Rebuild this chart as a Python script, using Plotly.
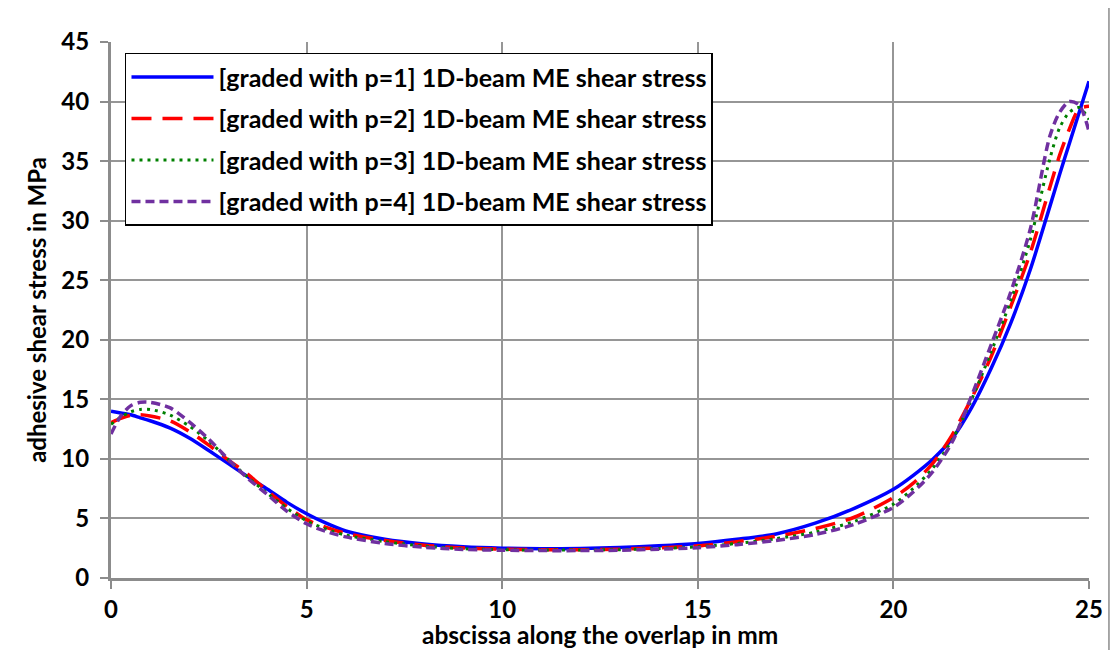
import plotly.graph_objects as go

x = [0, 0.25, 0.5, 0.75, 1, 1.5, 2, 2.5, 3, 3.5, 4, 4.5, 5, 5.5, 6, 7, 8, 9, 10, 11, 12, 13, 14, 15,
     16, 17, 18, 19, 20, 20.5, 21, 21.5, 22, 22.5, 23, 23.5, 24, 24.25, 24.5, 24.75, 25]

p1 = [14.0, 13.85, 13.7, 13.45, 13.2, 12.6, 11.75, 10.7, 9.6, 8.5, 7.45, 6.35, 5.4, 4.6, 3.95, 3.25, 2.85, 2.62, 2.5, 2.45, 2.47, 2.56, 2.7, 2.9,
      3.25, 3.7, 4.6, 5.85, 7.45, 8.6, 9.95, 11.7, 14.3, 17.6, 21.4, 25.9, 31.2, 33.9, 36.5, 39.1, 41.7]
p2 = [13.05, 13.4, 13.65, 13.7, 13.6, 13.2, 12.3, 11.15, 9.9, 8.7, 7.3, 6.0, 4.9, 4.25, 3.75, 3.15, 2.75, 2.52, 2.42, 2.37, 2.37, 2.42, 2.53, 2.7,
      3.05, 3.5, 4.15, 5.1, 6.75, 7.95, 9.6, 12.0, 15.1, 18.6, 22.8, 27.3, 32.8, 35.5, 37.7, 39.4, 39.6]
p3 = [12.9, 13.5, 13.95, 14.15, 14.15, 13.7, 12.75, 11.5, 9.95, 8.45, 7.1, 5.85, 4.8, 4.1, 3.6, 3.05, 2.68, 2.46, 2.38, 2.35, 2.35, 2.38, 2.47, 2.62,
      2.9, 3.3, 3.85, 4.75, 6.2, 7.5, 9.2, 11.6, 15.0, 19.0, 23.3, 28.4, 35.2, 37.8, 39.1, 39.5, 38.5]
p4 = [12.1, 13.6, 14.45, 14.75, 14.75, 14.3, 13.1, 11.65, 9.95, 8.35, 7.0, 5.6, 4.55, 3.9, 3.45, 2.9, 2.58, 2.4, 2.33, 2.3, 2.3, 2.33, 2.42, 2.55,
      2.8, 3.15, 3.65, 4.5, 5.93, 7.2, 8.9, 11.4, 15.3, 19.6, 24.0, 29.3, 37.1, 39.1, 40.0, 39.7, 37.5]

names = ["[graded with p=1] 1D-beam ME shear stress",
         "[graded with p=2] 1D-beam ME shear stress",
         "[graded with p=3] 1D-beam ME shear stress",
         "[graded with p=4] 1D-beam ME shear stress"]
x_ticks = [0, 5, 10, 15, 20, 25]
y_ticks = [0, 5, 10, 15, 20, 25, 30, 35, 40, 45]
x_title = "abscissa along the overlap in mm"
y_title = "adhesive shear stress in MPa"

FONT = "Lato"
FS = 24
styles = [
    dict(color="#0000FF", width=3.5, dash="solid"),
    dict(color="#FF0000", width=3.5, dash="20px,11px"),
    dict(color="#008000", width=3, dash="3px,5px"),
    dict(color="#7030A0", width=3.5, dash="9px,5px"),
]

fig = go.Figure()
for i, (ys, nm, st) in enumerate(zip([p1, p2, p3, p4], names, styles)):
    fig.add_trace(go.Scatter(x=x, y=ys, mode="lines", name=nm,
                             line=dict(shape="spline", smoothing=0.8, **st),
                             legendgroup=f"g{i}"))

bold = dict(family=FONT, size=FS, color="black", weight="bold")
axis_common = dict(showgrid=True, gridcolor="#969696", gridwidth=2, showline=True, linecolor="#8c8c8c",
                   linewidth=3, ticks="outside", ticklen=8, tickwidth=2, tickcolor="#8c8c8c",
                   zeroline=False, tickfont=bold)

fig.update_layout(
    width=1120, height=650,
    margin=dict(l=103, r=39, t=34, b=80),
    paper_bgcolor="white", plot_bgcolor="white",
    font=dict(family=FONT, size=FS, color="black"),
    xaxis=dict(range=[0, 25], tickvals=x_ticks, ticktext=[str(v) for v in x_ticks],
               ticklabelstandoff=0, **axis_common),
    yaxis=dict(range=[0, 45], tickvals=y_ticks, ticktext=[str(v) for v in y_ticks],
               ticklabelstandoff=6,
               title=dict(text=y_title, font=bold, standoff=8),
               **axis_common),
    legend=dict(x=0.0143, y=0.98, xanchor="left", yanchor="top", bgcolor="white", bordercolor="black",
                borderwidth=1.5, font=dict(family=FONT, size=25, color="black", weight="bold"),
                itemwidth=82, tracegroupgap=6),
    showlegend=True,
)

fig.add_annotation(text=x_title, xref="paper", yref="paper", x=0.5, y=-0.1063, xanchor="center",
                   yanchor="middle", showarrow=False,
                   font=dict(family=FONT, size=24.5, color="black", weight="bold"))

fig.add_shape(type="rect", xref="paper", yref="paper", x0=-0.1063, x1=1.0204, y0=-0.2, y1=1.0653,
              line=dict(color="#8c8c8c", width=1.5), fillcolor="rgba(0,0,0,0)", layer="below")

fig.write_html("out.html")
